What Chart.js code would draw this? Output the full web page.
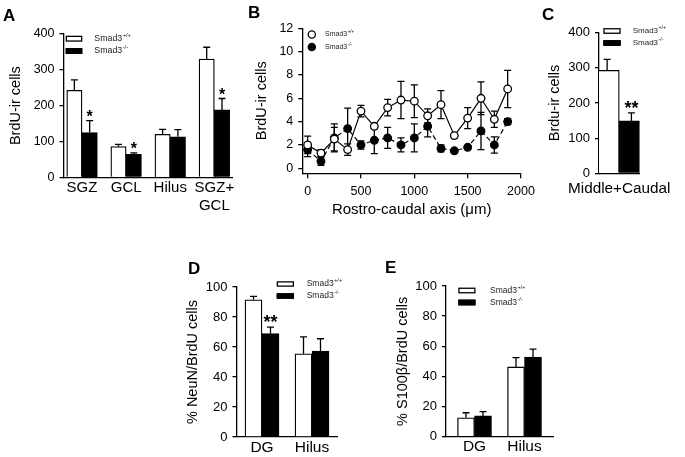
<!DOCTYPE html>
<html>
<head>
<meta charset="utf-8">
<script src="https://cdn.jsdelivr.net/npm/chart.js@4.4.1/dist/chart.umd.min.js"></script>
<style>
  html, body { margin: 0; padding: 0; background: #fff; }
  #fig { position: relative; width: 685px; height: 457px; overflow: hidden; }
  #fig canvas { position: absolute; left: 0; top: 0; }
</style>
</head>
<body>
<div id="fig">
  <canvas id="chartA" width="685" height="457"></canvas>
  <canvas id="chartB" width="685" height="457"></canvas>
  <canvas id="chartC" width="685" height="457"></canvas>
  <canvas id="chartD" width="685" height="457"></canvas>
  <canvas id="chartE" width="685" height="457"></canvas>
</div>
<script>
// Five panels, one full-size transparent canvas each; layout padding puts
// every chart area where the panel sits in the figure.

const W = 685, H = 457;
const FONT = '"Liberation Sans", Arial, Helvetica, sans-serif';

const genotypes = ['+/+', '-/-'];

// A: BrdU-ir cells by region
const regionsA = ['SGZ', 'GCL', 'Hilus', ['SGZ+', 'GCL']];
const wtA = [243, 86, 120, 330];
const wtErrA = [29, 6, 14, 33];
const koA = [125, 64, 113, 188];
const koErrA = [33, 4, 20, 32];
const starsA = ['*', '*', '', '*'];
const yTicksA = [0, 100, 200, 300, 400];

// B: rostro-caudal distribution
const posB = [0, 125, 250, 375, 500, 625, 750, 875, 1000, 1125, 1250, 1375, 1500, 1625, 1750, 1875];
const wtB = [2.0, 1.3, 2.5, 1.6, 4.9, 3.6, 5.2, 5.85, 5.75, 4.5, 5.45, 2.8, 4.3, 6.0, 4.2, 6.8];
const wtErrB = [0.75, 0.3, 1.0, 0.5, 0.5, 0.2, 0.7, 1.6, 1.4, 0.6, 1.2, 0.2, 0.9, 1.4, 0.7, 1.6];
const koB = [1.6, 0.6, 2.6, 3.4, 2.0, 2.4, 2.6, 2.0, 2.6, 3.6, 1.7, 1.5, 1.8, 3.2, 2.0, 4.0];
const koErrB = [0.6, 0.35, 1.2, 1.75, 0.35, 1.15, 0.9, 0.6, 1.2, 0.9, 0.3, 0.1, 0.15, 1.6, 0.7, 0.25];
const xTicksB = [0, 500, 1000, 1500, 2000];
const yTicksB = [0, 2, 4, 6, 8, 10, 12];

// C: middle + caudal total
const groupC = ['Middle+Caudal'];
const wtC = [293];
const wtErrC = [31];
const koC = [149];
const koErrC = [23];
const starsC = ['**'];
const yTicksC = [0, 100, 200, 300, 400];

// D / E: phenotype percentages
const regionsDE = ['DG', 'Hilus'];
const wtD = [91.5, 55.5];
const wtErrD = [2.3, 11.2];
const koD = [69, 57.3];
const koErrD = [4.3, 8.2];
const starsD = ['**', ''];
const wtE = [12.5, 46.3];
const wtErrE = [3.4, 6.2];
const koE = [13.8, 52.9];
const koErrE = [2.8, 5.2];
const starsE = ['', ''];
const yTicksDE = [0, 20, 40, 60, 80, 100];

Chart.defaults.font.family = FONT;
Chart.defaults.color = '#000';

const pts = (xs, ys) => ys.map((y, i) => ({ x: xs[i], y }));

function pad(area, yW, xH) {
  return { left: area[0] - yW, top: area[1], right: W - area[2], bottom: H - area[3] - xH };
}

// error bars drawn under the marks, so points hide the lower half
const errorBars = {
  id: 'errorBars',
  beforeDatasetsDraw(chart, args, opts) {
    const ctx = chart.ctx, ys = chart.scales.y;
    ctx.save();
    ctx.strokeStyle = '#000';
    ctx.lineWidth = 1.3;
    chart.data.datasets.forEach((ds, i) => {
      if (!ds.errors) return;
      chart.getDatasetMeta(i).data.forEach((el, j) => {
        const v = ds.data[j].y, e = ds.errors[j];
        const top = ys.getPixelForValue(v + e);
        const bot = ys.getPixelForValue(opts.both ? v - e : v);
        ctx.beginPath();
        ctx.moveTo(el.x, bot); ctx.lineTo(el.x, top);
        ctx.moveTo(el.x - opts.cap, top); ctx.lineTo(el.x + opts.cap, top);
        if (opts.both) { ctx.moveTo(el.x - opts.cap, bot); ctx.lineTo(el.x + opts.cap, bot); }
        ctx.stroke();
      });
    });
    ctx.restore();
  },
};

const starMarks = {
  id: 'starMarks',
  afterDatasetsDraw(chart, args, opts) {
    const ctx = chart.ctx, ys = chart.scales.y;
    ctx.save();
    ctx.font = `bold ${opts.size}px ${FONT}`;
    ctx.textAlign = 'center';
    ctx.textBaseline = 'alphabetic';
    ctx.fillStyle = '#000';
    chart.data.datasets.forEach((ds, i) => {
      if (!ds.stars) return;
      chart.getDatasetMeta(i).data.forEach((el, j) => {
        if (!ds.stars[j]) return;
        const top = ys.getPixelForValue(ds.data[j].y + ds.errors[j]);
        // asterisk ink sits ~0.58em above the baseline
        ctx.fillText(ds.stars[j], el.x, top - opts.gap + 0.58 * opts.size);
      });
    });
    ctx.restore();
  },
};

// panel letter plus the small Smad3 legend
const panelDeco = {
  id: 'panelDeco',
  afterDraw(chart, args, o) {
    const ctx = chart.ctx;
    ctx.save();
    ctx.fillStyle = '#000';
    ctx.font = `bold 17px ${FONT}`;
    ctx.textBaseline = 'alphabetic';
    ctx.textAlign = 'left';
    ctx.fillText(o.letter, o.letterAt[0], o.letterAt[1]);

    const lg = o.legend;
    chart.data.datasets.forEach((ds, i) => {
      const cy = lg.rows[i];
      const fill = ds.pointBackgroundColor || ds.backgroundColor;
      ctx.lineWidth = 1.3;
      ctx.strokeStyle = '#000';
      ctx.fillStyle = fill;
      if (lg.shape === 'circle') {
        ctx.beginPath();
        ctx.arc(lg.x, cy, lg.r, 0, Math.PI * 2);
        ctx.fill(); ctx.stroke();
      } else {
        ctx.fillRect(lg.x, cy - lg.h / 2, lg.w, lg.h);
        ctx.strokeRect(lg.x + 0.65, cy - lg.h / 2 + 0.65, lg.w - 1.3, lg.h - 1.3);
      }
      ctx.fillStyle = '#222';
      ctx.textBaseline = 'middle';
      ctx.font = `${lg.size}px ${FONT}`;
      ctx.fillText('Smad3', lg.textX, cy);
      const w = ctx.measureText('Smad3').width;
      ctx.font = `${lg.size * 0.65}px ${FONT}`;
      ctx.fillText(genotypes[i], lg.textX + w + 0.5, cy - lg.size * 0.38);
    });
    ctx.restore();
  },
};

const common = { responsive: false, animation: false, devicePixelRatio: 1, events: [] };

function yAxis(p) {
  return {
    min: p.yMin !== undefined ? p.yMin : 0,
    max: p.yMax !== undefined ? p.yMax : p.yTicks[p.yTicks.length - 1],
    afterBuildTicks: s => { s.ticks = p.yTicks.map(v => ({ value: v })); },
    afterFit: s => { s.width = p.yW; },
    grid: { display: true, drawOnChartArea: false, drawTicks: true, tickLength: 4, color: '#000', lineWidth: 1.3 },
    border: { display: true, color: '#000', width: 1.3 },
    ticks: { padding: 5, font: { size: p.tickFont }, color: '#000' },
    title: { display: true, text: p.yTitle, font: { size: 14.5 }, padding: 0, color: '#000' },
  };
}

function barPanel(id, p) {
  const xs = p.cats.map((_, i) => i);
  return new Chart(document.getElementById(id), {
    type: 'bar',
    data: {
      datasets: [
        { label: 'Smad3' + genotypes[0], data: pts(xs, p.wt), errors: p.wtErr,
          backgroundColor: '#fff', borderColor: '#000', borderWidth: 1.3, barThickness: p.barW },
        { label: 'Smad3' + genotypes[1], data: pts(xs, p.ko), errors: p.koErr, stars: p.stars,
          backgroundColor: '#000', borderColor: '#000', borderWidth: 1.3, barThickness: p.barW },
      ],
    },
    options: {
      ...common,
      layout: { padding: pad(p.area, p.yW, p.xH) },
      scales: {
        x: {
          type: 'linear', min: p.xRange[0], max: p.xRange[1], offset: false,
          afterBuildTicks: s => { s.ticks = xs.map(v => ({ value: v })); },
          afterFit: s => { s.height = p.xH; },
          grid: { display: false, drawTicks: false, offset: false },
          border: { display: true, color: '#000', width: 1.3 },
          ticks: { autoSkip: false, maxRotation: 0, padding: p.catPad, font: { size: p.catFont },
                   color: '#000', callback: (v, i) => p.cats[i] },
        },
        y: yAxis(p),
      },
      plugins: {
        legend: { display: false },
        tooltip: { enabled: false },
        errorBars: { cap: 3.5, both: false },
        starMarks: { size: p.starSize, gap: p.starGap },
        panelDeco: { letter: p.letter, letterAt: p.letterAt, legend: p.legend },
      },
    },
    plugins: [errorBars, starMarks, panelDeco],
  });
}

barPanel('chartA', {
  cats: regionsA, wt: wtA, wtErr: wtErrA, ko: koA, koErr: koErrA, stars: starsA,
  yTicks: yTicksA, yTitle: 'BrdU-ir cells', tickFont: 12.5,
  area: [63.5, 34, 232, 177.3], xRange: [-0.42, 3.4], yW: 56.2, xH: 42,
  barW: 15.3, catFont: 15, catPad: 2, starSize: 16, starGap: 8,
  letter: 'A', letterAt: [3, 20.7],
  legend: { shape: 'rect', x: 65.7, w: 16.6, h: 6, rows: [38.7, 51], textX: 94.3, size: 8.8 },
});

new Chart(document.getElementById('chartB'), {
  type: 'line',
  data: {
    datasets: [
      { label: 'Smad3' + genotypes[0], data: pts(posB, wtB), errors: wtErrB,
        borderColor: '#000', borderWidth: 1.2, tension: 0,
        pointRadius: 3.8, pointBackgroundColor: '#fff', pointBorderColor: '#000', pointBorderWidth: 1.3 },
      { label: 'Smad3' + genotypes[1], data: pts(posB, koB), errors: koErrB,
        borderColor: '#000', borderWidth: 1.2, borderDash: [5, 3], tension: 0,
        pointRadius: 3.8, pointBackgroundColor: '#000', pointBorderColor: '#000', pointBorderWidth: 1.3 },
    ],
  },
  options: {
    ...common,
    layout: { padding: pad([302.3, 28.3, 521, 173.3], 48.7, 45.7) },
    scales: {
      x: {
        type: 'linear', min: -50, max: 2000,
        afterBuildTicks: s => { s.ticks = xTicksB.map(v => ({ value: v })); },
        afterFit: s => { s.height = 45.7; },
        grid: { display: true, drawOnChartArea: false, drawTicks: true, tickLength: 5, color: '#000', lineWidth: 1.3 },
        border: { display: true, color: '#000', width: 1.3 },
        ticks: { padding: 6, maxRotation: 0, autoSkip: false, font: { size: 12.5 }, color: '#000',
                 callback: v => String(v) },
        title: { display: true, text: 'Rostro-caudal axis (\u03bcm)', font: { size: 15 }, padding: 0, color: '#000' },
      },
      y: yAxis({ yTicks: yTicksB, yMin: -0.43, yMax: 12, yW: 48.7, tickFont: 12.5, yTitle: 'BrdU-ir cells' }),
    },
    plugins: {
      legend: { display: false },
      tooltip: { enabled: false },
      errorBars: { cap: 3.5, both: true },
      panelDeco: {
        letter: 'B', letterAt: [248, 18.3],
        legend: { shape: 'circle', x: 311.8, r: 3.6, rows: [34.5, 47], textX: 325, size: 7 },
      },
    },
  },
  plugins: [errorBars, panelDeco],
});

barPanel('chartC', {
  cats: groupC, wt: wtC, wtErr: wtErrC, ko: koC, koErr: koErrC, stars: starsC,
  yTicks: yTicksC, yTitle: 'Brdu-ir cells', tickFont: 13,
  area: [599, 32.7, 668, 173.3], xRange: [-0.5, 0.5], yW: 52.7, xH: 40,
  barW: 24.3, catFont: 15.3, catPad: 6, starSize: 18, starGap: 9,
  letter: 'C', letterAt: [542, 20],
  legend: { shape: 'rect', x: 603.3, w: 17.4, h: 5.8, rows: [31, 43], textX: 632.7, size: 8 },
});

barPanel('chartD', {
  cats: regionsDE, wt: wtD, wtErr: wtErrD, ko: koD, koErr: koErrD, stars: starsD,
  yTicks: yTicksDE, yTitle: '% NeuN/BrdU cells', tickFont: 13,
  area: [236.5, 287, 337.5, 437], xRange: [-0.51, 1.51], yW: 51.9, xH: 20,
  barW: 17, catFont: 15.5, catPad: 1, starSize: 18, starGap: 9,
  letter: 'D', letterAt: [188, 274.3],
  legend: { shape: 'rect', x: 276.7, w: 17.3, h: 5.5, rows: [284, 296], textX: 306.7, size: 8.5 },
});

barPanel('chartE', {
  cats: regionsDE, wt: wtE, wtErr: wtErrE, ko: koE, koErr: koErrE, stars: starsE,
  yTicks: yTicksDE, yTitle: '% S100\u03b2/BrdU cells', tickFont: 13,
  area: [446, 286, 553, 436.7], xRange: [-0.57, 1.57], yW: 51.4, xH: 20.3,
  barW: 17, catFont: 15.5, catPad: 1, starSize: 18, starGap: 9,
  letter: 'E', letterAt: [385, 273.3],
  legend: { shape: 'rect', x: 458.3, w: 17.2, h: 5.8, rows: [290.5, 302.5], textX: 490, size: 8.5 },
});
</script>
</body>
</html>
